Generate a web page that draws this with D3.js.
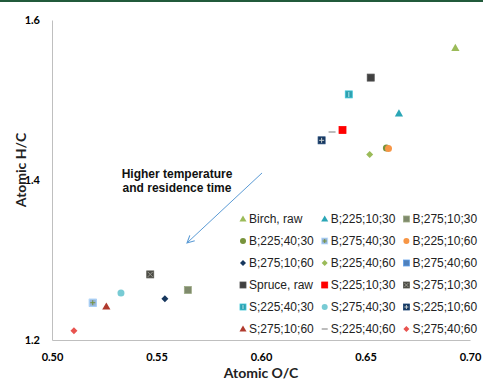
<!DOCTYPE html>
<html>
<head>
<meta charset="utf-8">
<script src="https://cdn.jsdelivr.net/npm/d3@7"></script>
<style>
  body { margin: 0; background: #fff; }
  svg { display: block; }
</style>
</head>
<body>
<div id="chart"></div>
<script>
// Datos
var series = ["Birch, raw", "B;225;10;30", "B;275;10;30",
              "B;225;40;30", "B;275;40;30", "B;225;10;60",
              "B;275;10;60", "B;225;40;60", "B;275;40;60",
              "Spruce, raw", "S;225;10;30", "S;275;10;30",
              "S;225;40;30", "S;275;40;30", "S;225;10;60",
              "S;275;10;60", "S;225;40;60", "S;275;40;60"];
var oc = [0.693, 0.666, 0.565,
          0.660, 0.5195, 0.661,
          0.554, 0.652, 0.5195,
          0.6525, 0.639, 0.547,
          0.642, 0.533, 0.629,
          0.526, 0.634, 0.5105];
var hc = [1.565, 1.483, 1.2625,
          1.440, 1.2466, 1.4395,
          1.2516, 1.432, 1.2466,
          1.528, 1.4625, 1.282,
          1.507, 1.2588, 1.4496,
          1.2416, 1.460, 1.2116];
var xTicks = [0.50, 0.55, 0.60, 0.65, 0.70];
var yTicks = [1.2, 1.4, 1.6];

// Estilos por serie
var colors = ["#9bbb59", "#2aa6b6", "#7f8a6c",
              "#77933c", "#95b3d7", "#f79646",
              "#17375e", "#9bbb59", "#4f81bd",
              "#404040", "#ff0000", "#4a4a44",
              "#2f9fae", "#78cbd4", "#17375e",
              "#b03a2e", "#a6a6a6", "#e8534f"];
var shapes = ["triangle", "triangle", "square",
              "circle", "squarePlus", "circle",
              "diamond", "diamond", "square",
              "square", "square", "squareX",
              "squareBar", "circle", "squareGrid",
              "triangle", "dash", "diamond"];
// orden de dibujo (B;275;40;60 queda debajo)
var drawOrder = [8, 0, 1, 2, 3, 5, 4, 6, 7, 9, 10, 11, 12, 13, 14, 15, 16, 17];

var width = 483, height = 382;
var svg = d3.select("#chart").append("svg")
    .attr("width", width)
    .attr("height", height);

// borde verde superior
svg.append("rect").attr("x", 0).attr("y", 0).attr("width", width).attr("height", 2)
    .attr("fill", "#215a3b");

var x = d3.scaleLinear().domain([0.50, 0.70]).range([52, 470]);
var y = d3.scaleLinear().domain([1.2, 1.6]).range([340, 20]);

// ejes
var xAxis = d3.axisBottom(x).tickValues(xTicks).tickSize(0).tickFormat(d3.format(".2f"));
var yAxis = d3.axisLeft(y).tickValues(yTicks).tickSize(0).tickFormat(d3.format(".1f"));

var gx = svg.append("g").attr("transform", "translate(0,340)").call(xAxis);
gx.select(".domain").attr("stroke", "#bfbfbf");
gx.selectAll("text").attr("dy", "0").attr("y", 21)
    .attr("font-family", "Lato, 'Open Sans', sans-serif").attr("font-weight", "bold")
    .attr("font-size", 11).attr("fill", "#000");

var gy = svg.append("g").attr("transform", "translate(52,0)").call(yAxis);
gy.select(".domain").attr("stroke", "#bfbfbf");
gy.selectAll("text").attr("x", -12).attr("dy", "0.35em")
    .attr("font-family", "Lato, 'Open Sans', sans-serif").attr("font-weight", "bold")
    .attr("font-size", 11).attr("fill", "#000");

// títulos de ejes
svg.append("text").attr("x", 261).attr("y", 378).attr("text-anchor", "middle")
    .attr("font-family", "Lato, sans-serif").attr("font-weight", "bold").attr("font-size", 14)
    .attr("fill", "#222").text("Atomic O/C");
svg.append("text").attr("transform", "translate(26,170) rotate(-90)").attr("text-anchor", "middle")
    .attr("font-family", "Lato, sans-serif").attr("font-weight", "bold").attr("font-size", 14)
    .attr("fill", "#222").text("Atomic H/C");

// marcadores
function marker(g, shape, color, s) {
  var h = s / 2;
  if (shape == "triangle") {
    g.append("path").attr("d", d3.symbol(d3.symbolTriangle, s * s * 0.6)())
      .attr("transform", "translate(0,0.5)").attr("fill", color);
  } else if (shape == "circle") {
    g.append("circle").attr("r", h).attr("fill", color);
  } else if (shape == "diamond") {
    g.append("path").attr("d", "M0," + (-h) + "L" + h + ",0L0," + h + "L" + (-h) + ",0Z")
      .attr("fill", color);
  } else if (shape == "dash") {
    g.append("line").attr("x1", -h).attr("x2", h).attr("stroke", color).attr("stroke-width", 1.5);
  } else {
    g.append("rect").attr("x", -h).attr("y", -h).attr("width", s).attr("height", s)
      .attr("fill", color).attr("stroke", d3.color(color).brighter(0.6)).attr("stroke-width", 0.8);
    var lc = shape == "squarePlus" ? "#77933c" : "#c8d0d0";
    var l = h - 1;
    if (shape == "squareX") {
      g.append("path").attr("d", "M" + (-l) + "," + (-l) + "L" + l + "," + l + "M" + l + "," + (-l) + "L" + (-l) + "," + l)
        .attr("stroke", "#9a9a90").attr("stroke-width", 1);
    } else if (shape == "squarePlus" || shape == "squareGrid") {
      g.append("path").attr("d", "M0," + (-l) + "V" + l + "M" + (-l) + ",0H" + l)
        .attr("stroke", lc).attr("stroke-width", 1);
    } else if (shape == "squareBar") {
      g.append("path").attr("d", "M0," + (-l) + "V" + l)
        .attr("stroke", "#9adbe3").attr("stroke-width", 1.2);
    }
  }
}

var points = svg.append("g");
drawOrder.forEach(function(i) {
  var g = points.append("g").attr("transform", "translate(" + x(oc[i]) + "," + y(hc[i]) + ")");
  marker(g, shapes[i], colors[i], 7);
});

// anotación
var defs = svg.append("defs");
defs.append("marker").attr("id", "arr").attr("viewBox", "0 0 10 10").attr("refX", 9).attr("refY", 5)
    .attr("markerWidth", 9).attr("markerHeight", 9).attr("orient", "auto")
    .append("path").attr("d", "M1,1L9,5L1,9").attr("fill", "none").attr("stroke", "#5b9bd5").attr("stroke-width", 1.2);
svg.append("line")
    .attr("x1", x(0.6005)).attr("y1", y(1.4088))
    .attr("x2", x(0.5646)).attr("y2", y(1.3213))
    .attr("stroke", "#5b9bd5").attr("stroke-width", 1).attr("marker-end", "url(#arr)");
var ann = svg.append("text").attr("text-anchor", "middle")
    .attr("font-family", "'Liberation Sans', Arial, sans-serif").attr("font-weight", "bold")
    .attr("font-size", 12).attr("fill", "#111");
ann.append("tspan").attr("x", x(0.5598)).attr("y", 178).text("Higher temperature");
ann.append("tspan").attr("x", x(0.5598)).attr("y", 192).text("and residence time");

// leyenda
var legend = svg.append("g");
series.forEach(function(name, i) {
  var col = i % 3, row = Math.floor(i / 3);
  var lg = legend.append("g").attr("transform", "translate(" + (243 + col * 81.7) + "," + (219 + row * 22) + ")");
  marker(lg.append("g"), shapes[i], colors[i], 6);
  lg.append("text").attr("x", 6).attr("dy", "0.35em")
    .attr("font-family", "'Liberation Sans', Arial, sans-serif").attr("font-size", 12)
    .attr("fill", "#222").text(name);
});
</script>
</body>
</html>
